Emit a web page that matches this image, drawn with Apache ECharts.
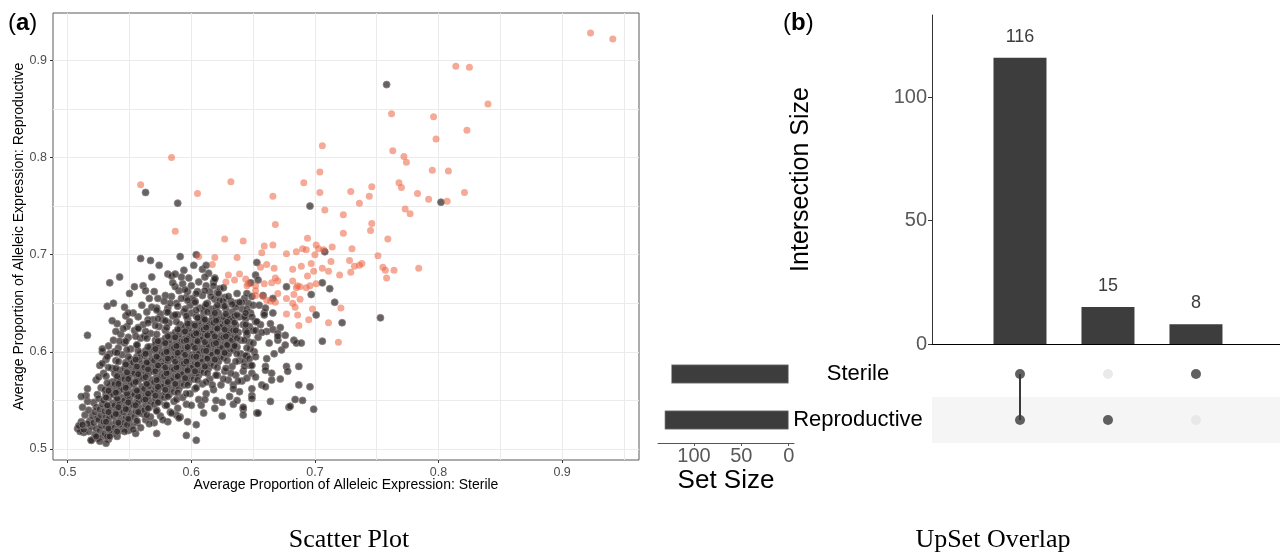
<!DOCTYPE html>
<html>
<head>
<meta charset="utf-8">
<script src="https://cdn.jsdelivr.net/npm/echarts@6/dist/echarts.min.js"></script>
<style>
html,body{margin:0;padding:0;background:#fff;}
#chart{width:1280px;height:555px;}
</style>
</head>
<body>
<div id="chart"></div>
<script>
// ---------- Panel (a): scatter ----------
const xTickValues = [0.5, 0.6, 0.7, 0.8, 0.9];
const yTickValues = [0.5, 0.6, 0.7, 0.8, 0.9];
const xGridValues = [0.5, 0.55, 0.6, 0.65, 0.7, 0.75, 0.8, 0.85, 0.9, 0.95];
const yGridValues = [0.5, 0.55, 0.6, 0.65, 0.7, 0.75, 0.8, 0.85, 0.9];

// points flagged (orange)
const flaggedPoints = [
[.584,.800],[.559,.772],[.605,.763],[.632,.775],[.587,.724],[.627,.716],[.642,.714],[.606,.698],[.619,.697],[.637,.697],
[.659,.709],[.666,.710],[.668,.731],[.666,.760],[.691,.774],[.704,.785],[.704,.764],[.694,.717],[.677,.701],[.685,.703],
[.690,.706],[.657,.702],[.661,.690],[.667,.686],[.656,.687],[.701,.710],[.700,.700],[.697,.691],[.617,.690],[.639,.680],
[.630,.679],[.644,.675],[.682,.685],[.694,.678],[.699,.683],
[.923,.928],[.941,.922],[.814,.894],[.825,.893],[.840,.855],[.762,.845],[.796,.842],[.823,.828],[.798,.819],[.706,.812],
[.763,.807],[.772,.801],[.774,.795],[.795,.787],[.808,.786],[.768,.774],[.770,.769],[.783,.763],[.792,.757],[.807,.755],
[.821,.764],[.729,.765],[.746,.770],[.744,.760],[.736,.753],[.708,.746],[.723,.741],[.773,.747],[.777,.742],[.746,.732],
[.745,.725],[.723,.722],[.759,.716],[.714,.708],[.730,.706],[.707,.705],[.751,.699],[.713,.693],[.728,.694],[.732,.688],
[.736,.689],[.738,.691],[.706,.686],[.711,.683],[.720,.679],[.729,.682],[.755,.687],[.757,.684],[.764,.684],[.784,.686],
[.758,.676],[.721,.645],[.711,.630],[.719,.610],
[.693,.705],[.703,.706],[.689,.688],[.682,.673],[.628,.672],[.635,.674],[.646,.670],[.652,.658],[.659,.670],[.665,.671],
[.668,.676],[.670,.673],[.670,.660],[.658,.657],[.664,.652],[.668,.651],[.677,.655],[.677,.639],[.685,.666],[.686,.668],
[.688,.667],[.683,.659],[.688,.654],[.682,.650],[.693,.666],[.696,.668],[.701,.670],[.686,.638],[.687,.627],[.695,.633],
[.698,.644],[.645,.668],[.652,.668],[.652,.663],[.661,.653],[.684,.646]
];

// dense central cloud (non-flagged)
const coreCloud = [
[.517,.518],[.519,.523],[.518,.529],[.520,.534],[.516,.526],
[.522,.515],[.523,.521],[.521,.527],[.524,.532],[.522,.538],[.523,.543],
[.526,.519],[.527,.524],[.525,.530],[.527,.535],[.526,.541],[.528,.546],[.525,.552],
[.530,.516],[.531,.523],[.529,.528],[.531,.533],[.530,.539],[.532,.544],[.529,.550],[.531,.556],[.530,.561],
[.534,.519],[.535,.525],[.533,.531],[.535,.536],[.534,.542],[.536,.547],[.533,.553],[.535,.558],[.534,.564],[.536,.569],
[.538,.522],[.539,.528],[.537,.534],[.539,.539],[.538,.545],[.540,.550],[.537,.556],[.539,.561],[.538,.567],[.540,.572],[.538,.578],
[.542,.525],[.543,.531],[.541,.536],[.543,.542],[.542,.547],[.544,.553],[.541,.559],[.543,.564],[.542,.570],[.544,.575],[.542,.581],
[.546,.527],[.547,.533],[.545,.538],[.547,.544],[.546,.550],[.548,.555],[.545,.561],[.547,.566],[.546,.572],[.548,.577],[.546,.583],[.547,.589],
[.550,.530],[.551,.536],[.549,.541],[.551,.547],[.550,.552],[.552,.558],[.549,.564],[.551,.569],[.550,.575],[.552,.580],[.550,.586],[.551,.592],
[.554,.533],[.555,.539],[.553,.545],[.556,.550],[.554,.556],[.555,.561],[.553,.567],[.556,.573],[.554,.578],[.555,.584],[.553,.589],[.556,.595],
[.558,.537],[.559,.542],[.557,.548],[.559,.553],[.558,.559],[.560,.564],[.557,.570],[.559,.576],[.558,.581],[.560,.587],[.558,.592],[.559,.598],
[.562,.540],[.563,.546],[.561,.551],[.563,.557],[.562,.562],[.564,.568],[.561,.573],[.563,.579],[.562,.584],[.564,.590],[.562,.596],[.563,.601],
[.566,.543],[.567,.549],[.565,.554],[.567,.560],[.566,.565],[.568,.571],[.565,.577],[.567,.582],[.566,.588],[.568,.593],[.566,.599],[.567,.605],
[.570,.546],[.571,.552],[.569,.558],[.571,.563],[.570,.569],[.572,.574],[.569,.580],[.571,.586],[.570,.591],[.572,.597],[.570,.602],[.571,.608],
[.574,.549],[.575,.555],[.573,.561],[.575,.566],[.574,.572],[.576,.578],[.573,.583],[.575,.589],[.574,.594],[.576,.600],[.574,.606],[.575,.611],
[.578,.553],[.579,.558],[.577,.564],[.579,.570],[.578,.575],[.580,.581],[.577,.586],[.579,.592],[.578,.598],[.580,.603],[.578,.609],[.579,.614],
[.582,.556],[.583,.562],[.581,.567],[.583,.573],[.582,.579],[.584,.584],[.581,.590],[.583,.595],[.582,.601],[.584,.607],[.582,.612],[.583,.617],
[.586,.559],[.587,.565],[.585,.571],[.587,.576],[.586,.582],[.588,.587],[.585,.593],[.587,.599],[.586,.604],[.588,.610],[.586,.615],[.587,.620],
[.590,.562],[.591,.568],[.589,.574],[.591,.579],[.590,.585],[.592,.591],[.589,.596],[.591,.602],[.590,.607],[.592,.613],[.590,.618],[.591,.623],
[.594,.566],[.595,.571],[.593,.577],[.595,.583],[.594,.588],[.596,.594],[.593,.599],[.595,.605],[.594,.611],[.596,.616],[.594,.621],[.595,.626],
[.598,.569],[.599,.575],[.597,.580],[.599,.586],[.598,.592],[.600,.597],[.597,.603],[.599,.608],[.598,.614],[.600,.619],[.598,.624],[.599,.629],
[.602,.572],[.603,.578],[.601,.584],[.603,.589],[.602,.595],[.604,.600],[.601,.606],[.603,.612],[.602,.617],[.604,.622],[.602,.628],
[.606,.576],[.607,.581],[.605,.587],[.607,.593],[.606,.598],[.608,.604],[.605,.609],[.607,.615],[.606,.620],[.608,.626],[.606,.631],
[.610,.579],[.611,.585],[.609,.590],[.611,.596],[.610,.601],[.612,.607],[.609,.613],[.611,.618],[.610,.623],[.612,.629],[.610,.634],
[.614,.583],[.615,.588],[.613,.594],[.615,.599],[.614,.605],[.616,.611],[.613,.616],[.615,.621],[.614,.627],[.616,.632],
[.618,.586],[.619,.592],[.617,.597],[.619,.603],[.618,.608],[.620,.614],[.617,.619],[.619,.625],[.618,.630],[.620,.635],
[.622,.590],[.623,.595],[.621,.601],[.623,.606],[.622,.612],[.624,.617],[.621,.623],[.623,.628],[.622,.633],
[.626,.594],[.627,.599],[.625,.604],[.627,.610],[.626,.615],[.628,.621],[.625,.626],[.627,.631],[.626,.636],
[.630,.598],[.631,.603],[.629,.608],[.631,.614],[.630,.619],[.632,.624],[.629,.629],[.631,.634],
[.634,.602],[.635,.607],[.633,.612],[.635,.617],[.634,.622],[.636,.627],[.633,.632],[.635,.637]
];

// second, offset layer of the dense cloud
const coreCloud2 = [
[.532,.513],[.533,.521],[.531,.528],[.533,.538],[.532,.545],[.531,.553],[.533,.560],[.532,.568],[.531,.575],[.533,.584],
[.540,.518],[.541,.527],[.539,.536],[.541,.543],[.540,.552],[.539,.558],[.541,.567],[.540,.575],[.539,.583],[.541,.590],[.540,.599],
[.548,.525],[.549,.531],[.547,.541],[.549,.548],[.548,.557],[.547,.563],[.549,.572],[.548,.579],[.547,.587],[.549,.595],[.548,.602],[.547,.611],
[.556,.529],[.557,.538],[.555,.545],[.557,.554],[.556,.560],[.555,.569],[.557,.577],[.556,.585],[.555,.592],[.557,.601],[.556,.607],[.555,.616],[.557,.624],
[.564,.535],[.565,.542],[.563,.551],[.565,.557],[.564,.567],[.563,.574],[.565,.582],[.564,.589],[.563,.598],[.565,.605],[.564,.614],[.563,.621],[.565,.630],
[.572,.539],[.573,.548],[.571,.555],[.573,.564],[.572,.571],[.571,.580],[.573,.586],[.572,.595],[.571,.603],[.573,.611],[.572,.618],[.571,.627],[.573,.634],[.572,.643],
[.580,.545],[.581,.554],[.579,.561],[.581,.569],[.580,.578],[.579,.584],[.581,.593],[.580,.600],[.579,.609],[.581,.616],[.580,.625],[.579,.632],[.581,.641],
[.588,.551],[.589,.558],[.587,.567],[.589,.575],[.588,.584],[.587,.590],[.589,.599],[.588,.606],[.587,.615],[.589,.623],[.588,.631],[.587,.638],[.589,.647],
[.596,.557],[.597,.566],[.595,.573],[.597,.581],[.596,.590],[.595,.597],[.597,.605],[.596,.612],[.595,.621],[.597,.629],[.596,.637],[.595,.644],[.597,.653],
[.604,.563],[.605,.571],[.603,.580],[.605,.587],[.604,.595],[.603,.604],[.605,.611],[.604,.619],[.603,.627],[.605,.635],[.604,.643],[.603,.651],
[.612,.569],[.613,.578],[.611,.585],[.613,.593],[.612,.601],[.611,.610],[.613,.617],[.612,.625],[.611,.633],[.613,.641],[.612,.649],
[.620,.576],[.621,.584],[.619,.592],[.621,.600],[.620,.609],[.619,.616],[.621,.624],[.620,.632],[.619,.640],[.621,.648],
[.628,.583],[.629,.591],[.627,.599],[.629,.607],[.628,.616],[.627,.623],[.629,.631],[.628,.639],[.627,.647],
[.636,.590],[.637,.598],[.635,.606],[.637,.614],[.636,.622],[.635,.630],[.637,.638],[.636,.646],
[.644,.596],[.645,.604],[.643,.612],[.645,.620],[.644,.628],[.643,.636],[.645,.644]
];

// medium-density fringe around the cloud
const fringeCloud = [
[.521,.548],[.524,.556],[.527,.563],[.523,.571],[.529,.578],[.526,.586],[.531,.592],[.528,.600],
[.536,.583],[.539,.591],[.534,.598],[.541,.604],[.537,.612],[.544,.597],[.546,.609],[.543,.618],[.548,.626],[.540,.629],[.547,.637],[.551,.603],[.549,.615],
[.556,.607],[.559,.614],[.554,.622],[.561,.628],[.557,.636],[.564,.641],[.560,.648],[.567,.619],[.569,.633],[.572,.645],[.566,.655],[.574,.626],[.571,.612],[.575,.639],
[.579,.622],[.582,.630],[.585,.637],[.581,.645],[.588,.650],[.584,.657],[.591,.628],[.594,.641],[.590,.663],[.597,.634],[.599,.648],[.596,.656],[.593,.670],[.600,.640],[.587,.667],
[.604,.637],[.607,.645],[.603,.652],[.610,.641],[.613,.650],[.609,.658],[.616,.644],[.619,.654],[.615,.662],[.622,.640],[.625,.648],[.621,.661],[.628,.644],[.627,.656],[.612,.668],[.618,.672],
[.637,.605],[.640,.612],[.638,.620],[.642,.628],[.639,.636],[.641,.644],[.645,.617],[.647,.626],[.644,.634],[.648,.640],[.646,.650],[.650,.622],[.652,.631],[.636,.650],[.643,.655],[.633,.641],
[.519,.509],[.524,.511],[.528,.513],[.533,.510],[.536,.516],[.531,.506],
[.541,.518],[.545,.521],[.549,.519],[.552,.524],[.556,.527],[.559,.522],[.563,.530],[.567,.533],[.561,.536],[.555,.516],[.570,.527],
[.572,.540],[.575,.534],[.579,.545],[.583,.538],[.586,.549],[.589,.542],[.593,.553],[.596,.546],[.599,.557],[.581,.528],[.591,.533],
[.603,.562],[.606,.551],[.609,.567],[.612,.557],[.615,.572],[.618,.561],[.621,.576],[.624,.566],[.627,.580],[.630,.571],[.608,.545],[.620,.550],
[.633,.585],[.636,.576],[.639,.591],[.642,.580],[.645,.596],[.648,.586],[.634,.566],[.641,.570],
[.508,.521],[.511,.528],[.514,.535],[.512,.543],[.516,.549],[.513,.517],[.517,.540],
[.598,.676],[.606,.672],[.614,.681],[.600,.668],[.592,.677],[.616,.657],[.626,.652],
[.528,.588],[.533,.606],[.538,.600],[.542,.611],[.545,.624],[.550,.631],[.553,.640],[.557,.625],[.562,.616],[.565,.633],
[.568,.646],[.573,.655],[.577,.633],[.580,.641],[.583,.650],[.589,.638],[.592,.655],[.597,.662],[.601,.655],[.605,.662],
[.608,.635],[.611,.646],[.617,.638],[.620,.645],[.623,.653],[.629,.636],[.632,.652],[.641,.651],[.644,.622],[.647,.610],
[.651,.600],[.648,.603],[.640,.598],[.643,.590],[.654,.615],[.656,.628],[.638,.570],[.632,.578],[.626,.572],[.617,.566],
[.611,.551],[.600,.545],[.588,.535],[.577,.530],[.566,.526],[.553,.520],[.540,.513],[.526,.508]
];

// scattered outlying non-flagged points
const outlierPoints = [
[.563,.764],[.589,.753],[.696,.750],[.559,.696],[.567,.694],[.591,.698],[.604,.700],[.574,.689],[.594,.684],[.602,.689],
[.609,.685],[.612,.689],[.581,.680],[.584,.678],[.587,.680],[.568,.677],[.542,.677],[.653,.692],[.652,.679],[.611,.677],[.619,.676],
[.758,.875],[.802,.754],[.708,.703],
[.706,.671],[.712,.665],[.716,.651],[.722,.630],[.753,.635],[.706,.611],
[.534,.671],[.554,.667],[.550,.660],[.561,.668],[.563,.663],[.570,.662],[.579,.658],[.585,.671],[.595,.664],[.604,.660],
[.611,.663],[.619,.675],[.618,.668],[.623,.665],[.622,.660],[.578,.652],[.532,.647],[.536,.632],[.546,.646],[.549,.640],
[.539,.621],[.516,.617],[.528,.603],[.532,.595],[.525,.574],[.515,.555],[.510,.518],[.513,.520],[.519,.509],[.523,.513],
[.534,.513],[.546,.518],[.572,.516],[.596,.514],[.604,.509],[.584,.537],[.590,.532],[.597,.528],[.604,.525],[.610,.537],
[.619,.542],[.625,.548],[.634,.546],[.642,.541],[.642,.535],[.639,.559],[.649,.555],[.653,.537],[.645,.573],[.649,.578],
[.643,.585],[.647,.593],[.650,.609],[.652,.622],[.649,.636],[.650,.648],[.645,.660],
[.655,.648],[.658,.658],[.666,.640],[.659,.640],[.664,.629],[.672,.625],[.676,.617],[.683,.612],[.685,.609],[.689,.609],
[.661,.621],[.663,.609],[.667,.598],[.661,.593],[.660,.585],[.677,.585],[.678,.580],[.672,.572],[.660,.581],[.665,.578],
[.657,.566],[.660,.564],[.687,.585],[.687,.566],[.696,.564],[.664,.549],[.679,.543],[.684,.551],[.690,.550],[.699,.541],
[.649,.552],[.654,.537],[.625,.534],[.649,.562],[.652,.574],[.649,.586],[.652,.595],[.670,.612],[.673,.602],
[.648,.671],[.654,.674],[.666,.655],[.659,.638],[.666,.623],[.670,.619],[.677,.667],[.697,.659],[.701,.638],[.660,.645],
[.649,.657],[.637,.660],[.626,.666],[.630,.657],[.633,.649],[.639,.651],[.644,.640],[.653,.631],[.657,.620],
[.537,.650],[.516,.562],[.511,.554],[.509,.524],[.512,.525],[.665,.571],[.680,.544],[.676,.607],[.670,.616],[.634,.562],
[.631,.554],[.637,.550],[.642,.543]
];

// ---------- Panel (b): UpSet ----------
const setNames = ['Reproductive', 'Sterile'];          // bottom to top
const setSizes = [131, 124];
const setSizeTicks = [0, 50, 100];
const intersectionSets = [['Sterile', 'Reproductive'], ['Reproductive'], ['Sterile']];
const intersectionSizes = [116, 15, 8];
const intersectionTicks = [0, 50, 100];

// ---------- build ----------
const FONT = 'Liberation Sans, Arial, sans-serif';
const darkPoints = fringeCloud.concat(coreCloud, coreCloud2, outlierPoints);

const barData = intersectionSizes.map((v, i) => [i + 1, v]);
const activeDots = [], inactiveDots = [], linkSeries = [];
intersectionSets.forEach((combo, i) => {
  setNames.forEach(s => {
    (combo.indexOf(s) >= 0 ? activeDots : inactiveDots).push([i + 1, s]);
  });
  if (combo.length > 1) {
    linkSeries.push({
      type: 'line', xAxisIndex: 3, yAxisIndex: 3, symbol: 'none', silent: true,
      data: combo.map(s => [i + 1, s]),
      lineStyle: {color: '#3a3a3a', width: 2}, z: 3
    });
  }
});

const chart = echarts.init(document.getElementById('chart'), null, {renderer: 'canvas'});
const option = {
  backgroundColor: '#ffffff',
  animation: false,
  textStyle: {fontFamily: FONT},
  grid: [
    {left: 53, top: 13, width: 586, height: 447, show: true, borderColor: '#5a5a5a', borderWidth: 1, backgroundColor: '#fff'},
    {left: 932, top: 15, width: 348, height: 329},
    {left: 932, top: 351, width: 348, height: 92},
    {left: 658, top: 351, width: 136, height: 92}
  ],
  xAxis: [
    {gridIndex: 0, type: 'value', min: 0.4881, max: 0.9622, position: 'bottom',
     axisLine: {show: false},
     axisTick: {show: false, customValues: xGridValues},
     splitLine: {show: true, lineStyle: {color: '#ebebeb', width: 1}},
     axisLabel: {customValues: xTickValues, color: '#4d4d4d', fontSize: 12.5, margin: 6, fontFamily: FONT},
     name: 'Average Proportion of Alleleic Expression: Sterile', nameLocation: 'middle', nameGap: 18,
     nameMoveOverlap: false,
     nameTextStyle: {color: '#000', fontSize: 14, fontFamily: FONT}},
    {gridIndex: 0, type: 'value', min: 0.4881, max: 0.9622, position: 'bottom', offset: 0,
     axisLine: {show: false}, splitLine: {show: false}, axisLabel: {show: false},
     axisTick: {show: true, customValues: xTickValues, length: 3, lineStyle: {color: '#333'}}},
    {gridIndex: 1, type: 'value', min: 0, max: 3.955,
     axisLine: {show: true, lineStyle: {color: '#000', width: 1}}, axisTick: {show: false},
     axisLabel: {show: false}, splitLine: {show: false}},
    {gridIndex: 2, type: 'value', min: 0, max: 3.955, show: false},
    {gridIndex: 3, type: 'value', inverse: true, min: -5.6, max: 138,
     axisLine: {show: true, lineStyle: {color: '#555', width: 1}},
     axisTick: {show: true, customValues: setSizeTicks, length: 3, lineStyle: {color: '#555'}},
     axisLabel: {customValues: setSizeTicks, color: '#595959', fontSize: 20, margin: 3, fontFamily: FONT},
     splitLine: {show: false},
     name: 'Set Size', nameLocation: 'middle', nameGap: 25,
     nameTextStyle: {color: '#000', fontSize: 26, fontFamily: FONT}}
  ],
  yAxis: [
    {gridIndex: 0, type: 'value', min: 0.4887, max: 0.9487, position: 'left',
     axisLine: {show: false},
     axisTick: {show: false, customValues: yGridValues},
     splitLine: {show: true, lineStyle: {color: '#ebebeb', width: 1}},
     axisLabel: {customValues: yTickValues, color: '#4d4d4d', fontSize: 12.5, margin: 6, fontFamily: FONT},
     name: 'Average Proportion of Alleleic Expression: Reproductive', nameLocation: 'middle', nameGap: 27,
     nameTextStyle: {color: '#000', fontSize: 14, fontFamily: FONT}},
    {gridIndex: 0, type: 'value', min: 0.4887, max: 0.9487, position: 'left', offset: 0,
     axisLine: {show: false}, splitLine: {show: false}, axisLabel: {show: false},
     axisTick: {show: true, customValues: yTickValues, length: 3, lineStyle: {color: '#333'}}},
    {gridIndex: 1, type: 'value', min: 0, max: 133.3,
     axisLine: {show: true, lineStyle: {color: '#333', width: 1}},
     axisTick: {show: true, customValues: intersectionTicks, length: 4, lineStyle: {color: '#333'}},
     axisLabel: {customValues: intersectionTicks, color: '#595959', fontSize: 20, margin: 5, fontFamily: FONT},
     splitLine: {show: false},
     name: 'Intersection Size', nameLocation: 'middle', nameGap: 118,
     nameTextStyle: {color: '#000', fontSize: 25, fontFamily: FONT}},
    {gridIndex: 2, type: 'category', data: setNames,
     axisLine: {show: false}, axisTick: {show: false},
     axisLabel: {color: '#000', fontSize: 22, align: 'center', margin: 74, fontFamily: FONT},
     splitArea: {show: true, areaStyle: {color: ['#f5f5f5', '#ffffff']}},
     splitLine: {show: false}},
    {gridIndex: 3, type: 'category', data: setNames, show: false}
  ],
  series: [
    {type: 'scatter', name: 'other', xAxisIndex: 0, yAxisIndex: 0, data: darkPoints, symbolSize: 7,
     itemStyle: {color: 'rgba(44,36,36,0.9)', borderColor: '#888383', borderWidth: 1.0}, silent: true},
    {type: 'scatter', name: 'flagged', xAxisIndex: 0, yAxisIndex: 0, data: flaggedPoints, symbolSize: 7,
     itemStyle: {color: 'rgba(236,98,64,0.68)'}, silent: true},
    {type: 'bar', xAxisIndex: 2, yAxisIndex: 2, data: barData, barWidth: 53,
     itemStyle: {color: '#3d3d3d'},
     label: {show: true, position: 'top', distance: 12, color: '#3d3d3d', fontSize: 18, fontFamily: FONT,
             formatter: p => p.value[1]}},
    {type: 'scatter', xAxisIndex: 3, yAxisIndex: 3, data: inactiveDots, symbolSize: 10,
     itemStyle: {color: '#e5e5e5'}, z: 2},
    ...linkSeries,
    {type: 'scatter', xAxisIndex: 3, yAxisIndex: 3, data: activeDots, symbolSize: 10,
     itemStyle: {color: '#3a3a3a'}, z: 4},
    {type: 'bar', xAxisIndex: 4, yAxisIndex: 4, data: setSizes, barWidth: 19,
     itemStyle: {color: '#3d3d3d', borderColor: '#9a9a9a', borderWidth: 0.6}}
  ],
  graphic: [
    {type: 'text', left: 8, top: 11, style: {text: '{p|(}{b|a}{p|)}', rich: {
      p: {fontSize: 24, fontFamily: FONT, fill: '#000'}, b: {fontSize: 24, fontWeight: 'bold', fontFamily: FONT, fill: '#000'}}}},
    {type: 'text', left: 783, top: 11, style: {text: '{p|(}{b|b}{p|)}', rich: {
      p: {fontSize: 24, fontFamily: FONT, fill: '#000'}, b: {fontSize: 24, fontWeight: 'bold', fontFamily: FONT, fill: '#000'}}}},
    {type: 'text', x: 349, y: 540, style: {text: 'Scatter Plot', fontSize: 26, fontFamily: 'Liberation Serif, Times New Roman, serif',
      fill: '#000', align: 'center', verticalAlign: 'middle'}},
    {type: 'text', x: 993, y: 540, style: {text: 'UpSet Overlap', fontSize: 26, fontFamily: 'Liberation Serif, Times New Roman, serif',
      fill: '#000', align: 'center', verticalAlign: 'middle'}}
  ]
};
chart.setOption(option);
</script>
</body>
</html>
